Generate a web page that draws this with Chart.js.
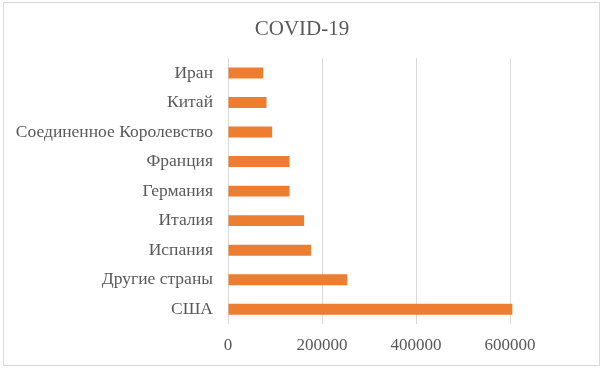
<!DOCTYPE html>
<html>
<head>
<meta charset="utf-8">
<script src="https://cdn.jsdelivr.net/npm/chart.js@4"></script>
<style>
  html, body { margin: 0; padding: 0; background: #fff; }
  #wrap { position: relative; width: 604px; height: 368px; }
  #frame { position: absolute; left: 3px; top: 2px; width: 597px; height: 364px; box-sizing: border-box; border: 1px solid #d9d9d9; pointer-events: none; }
</style>
</head>
<body>
<div id="wrap">
  <canvas id="myChart" width="604" height="368"></canvas>
  <div id="frame"></div>
</div>
<script>
// countries, top to bottom as in the picture
const countries = ['Иран', 'Китай', 'Соединенное Королевство', 'Франция', 'Германия', 'Италия', 'Испания', 'Другие страны', 'США'];
// confirmed cases
const cases = [75000, 82000, 94000, 131000, 131000, 162000, 177000, 254000, 605000];
const xTicks = [0, 200000, 400000, 600000];

const font = 'Liberation Serif, Times New Roman, serif';
const textColor = '#595959';

const ctx = document.getElementById('myChart').getContext('2d');
const myChart = new Chart(ctx, {
    type: 'bar',
    data: {
        labels: countries,
        datasets: [{
            label: 'COVID-19',
            data: cases,
            backgroundColor: '#ED7D31',
            barPercentage: 0.37,
            categoryPercentage: 1
        }]
    },
    options: {
        indexAxis: 'y',
        responsive: false,
        animation: false,
        layout: {
            padding: { top: 17, right: 0, bottom: 0, left: 0 }
        },
        plugins: {
            legend: { display: false },
            tooltip: { enabled: false },
            title: {
                display: true,
                text: 'COVID-19',
                color: textColor,
                font: { family: font, size: 21, weight: 'normal' },
                padding: { top: 0, bottom: 16 }
            }
        },
        scales: {
            x: {
                min: 0,
                max: 800000,
                afterBuildTicks: (scale) => {
                    scale.ticks = xTicks.map(v => ({ value: v }));
                },
                afterFit: (scale) => { scale.height = 44; },
                grid: { color: '#d9d9d9', drawTicks: false },
                border: { display: false },
                ticks: {
                    color: textColor,
                    padding: 11,
                    maxRotation: 0,
                    font: { family: font, size: 17 },
                    callback: (value) => String(value)
                }
            },
            y: {
                afterFit: (scale) => { scale.width = 228; },
                grid: { display: false, drawTicks: false },
                border: { display: false },
                ticks: {
                    color: textColor,
                    padding: 15,
                    autoSkip: false,
                    font: { family: font, size: 17.5 }
                }
            }
        }
    }
});
</script>
</body>
</html>
